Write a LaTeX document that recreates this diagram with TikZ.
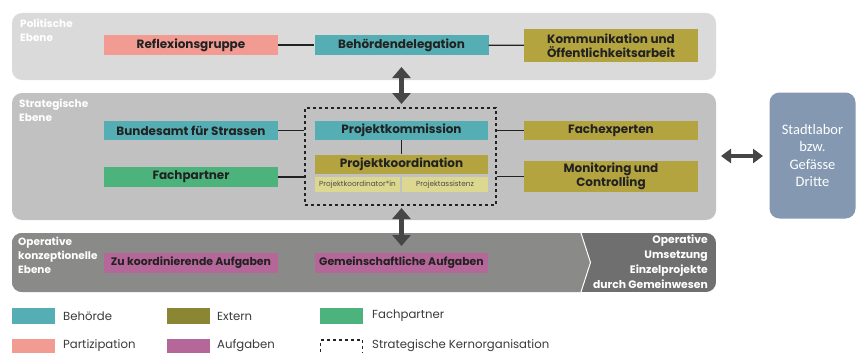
\documentclass[tikz,border=0pt]{standalone}
\usepackage{fontspec}
\setmainfont{Poppins}
\newfontfamily\carl{Carlito}
\usetikzlibrary{arrows.meta}
\definecolor{cteal}{HTML}{54AEB4}
\definecolor{csalmon}{HTML}{F29B92}
\definecolor{colive}{HTML}{B4A440}
\definecolor{cextern}{HTML}{8B8634}
\definecolor{cgreen}{HTML}{4DB37C}
\definecolor{cpurple}{HTML}{B5679A}
\definecolor{clight}{HTML}{DCD88F}
\definecolor{cstadt}{HTML}{8498B1}
\definecolor{cpol}{HTML}{DADADA}
\definecolor{cstrat}{HTML}{C1C1C1}
\definecolor{coper}{HTML}{8A8A89}
\definecolor{coperdark}{HTML}{6F6F6F}
\definecolor{carrow}{HTML}{464646}
\definecolor{ctxt}{HTML}{222222}
\definecolor{clegend}{HTML}{3A3A3A}
\begin{document}
\begin{tikzpicture}[x=1pt,y=-1pt,
  box/.style={fill=#1, minimum width=174pt, minimum height=20pt, inner sep=0pt,
    text=ctxt, font=\bfseries\fontsize{12}{13.5}\selectfont, align=center},
  taskbox/.style={box=cpurple, font=\bfseries\fontsize{10.9}{13}\selectfont},
  subbox/.style={fill=clight, minimum width=85pt, minimum height=15pt, inner sep=0pt,
    text=black!70, font=\fontsize{7.3}{8.5}\selectfont},
  panellabel/.style={anchor=north west, inner sep=0pt, text=white, align=left,
    font=\bfseries\fontsize{10.5}{14}\selectfont},
  link/.style={draw=ctxt, line width=1.2pt},
  bigarrow/.style={draw=carrow, line width=4.5pt, {Triangle[width=18pt,length=11pt]}-{Triangle[width=18pt,length=11pt]}},
  harrow/.style={draw=carrow, line width=4pt, {Triangle[width=14pt,length=10pt]}-{Triangle[width=14pt,length=10pt]}},
  swatch/.style={fill=#1, minimum width=43pt, minimum height=16pt, inner sep=0pt},
  legtext/.style={anchor=west, inner sep=0pt, text=clegend, font=\fontsize{11.7}{13}\selectfont}
]
\useasboundingbox (0,0) rectangle (856,353);

% panels
\fill[cpol, rounded corners=10pt] (12,13) rectangle (716,80);
\fill[cstrat, rounded corners=10pt] (12,93) rectangle (716,220);
\begin{scope}
  \clip[rounded corners=10pt] (12,233) rectangle (716,292);
  \fill[coperdark] (12,233) rectangle (716,292);
  \fill[coper] (0,233) -- (581,233) -- (590.5,262.5) -- (581,292) -- (0,292) -- cycle;
  \draw[white, line width=1pt] (581,233) -- (590.5,262.5) -- (581,292);
\end{scope}
\node[fill=cstadt, rounded corners=10pt, minimum width=86pt, minimum height=126pt, inner sep=0pt,
  text=white, align=center, font=\carl\fontsize{14.5}{17.5}\selectfont] (stadt) at (812.5,155.5)
  {Stadtlabor\\bzw.\\Gefässe\\Dritte};

% panel labels
\node[panellabel] (lpol) at (20,19) {Politische\\Ebene};
\node[panellabel] (lstrat) at (19,99) {Strategische\\Ebene};
\node[panellabel] (loper) at (18,237) {Operative\\konzeptionelle\\Ebene};
\node[anchor=north east, inner sep=0pt, text=white, align=right,
  font=\bfseries\fontsize{10.8}{15}\selectfont] (lumsetz) at (708,235)
  {Operative\\Umsetzung\\Einzelprojekte\\durch Gemeinwesen};

% political level
\node[box=csalmon] (refl) at (191,45) {Reflexionsgruppe};
\node[box=cteal] (behd) at (401.5,45) {Behördendelegation};
\node[box=colive, minimum height=33pt] (komm) at (611,45.5) {Kommunikation und\\Öffentlichkeitsarbeit};
\draw[link] (refl) -- (behd);
\draw[link] (behd) -- (komm);

% strategic level
\node[draw=ctxt, dashed, line width=1.2pt, minimum width=191pt, minimum height=97pt, inner sep=0pt] (kern) at (400.5,156.5) {};
\node[box=cteal, minimum height=19pt] (bund) at (191,130.5) {Bundesamt für Strassen};
\node[box=cteal, minimum height=19pt, minimum width=173pt] (pkom) at (401.5,130.5) {Projektkommission};
\node[box=colive, minimum height=19pt] (fexp) at (611,130.5) {Fachexperten};
\node[box=cgreen] (fpart) at (191,177) {Fachpartner};
\node[box=colive, minimum height=19pt, minimum width=173pt] (pkoord) at (401.5,164) {Projektkoordination};
\node[subbox] (pkin) at (357.5,184.5) {Projektkoordinator*in};
\node[subbox, minimum width=86pt] (pass) at (445,184.5) {Projektassistenz};
\node[box=colive, minimum height=31pt] (moni) at (611,176.5) {Monitoring und\\Controlling};
\draw[link] (bund.east) -- (bund.east -| kern.west);
\draw[link] (fpart.east) -- (fpart.east -| kern.west);
\draw[link] (fexp.west -| kern.east) -- (fexp.west);
\draw[link] (moni.west -| kern.east) -- (moni.west);
\draw[link] (pkom) -- (pkoord);

% operative level
\node[taskbox] (koord) at (191,263) {Zu koordinierende Aufgaben};
\node[taskbox, minimum width=173pt] (gemein) at (401.5,263) {Gemeinschaftliche Aufgaben};

% arrows
\coordinate (a1) at (401.5,67);
\coordinate (a2) at (401.5,104);
\coordinate (b1) at (401.5,208);
\coordinate (b2) at (401.5,246);
\coordinate (c1) at (721,156);
\coordinate (c2) at (763,156);
\draw[bigarrow] (a1) -- (a2);
\draw[bigarrow] (b1) -- (b2);
\draw[harrow] (c1) -- (c2);

% legend
\node[swatch=cteal] (s1) at (33.5,316) {};
\node[legtext] (t1) at (63,316) {Behörde};
\node[swatch=cextern] (s2) at (188,316) {};
\node[legtext] (t2) at (217,316) {Extern};
\node[swatch=cgreen] (s3) at (341.5,316) {};
\node[legtext] (t3) at (372,316) {Fachpartner};
\node[swatch=csalmon] (s4) at (33.5,347) {};
\node[legtext] (t4) at (63,346) {Partizipation};
\node[swatch=cpurple] (s5) at (188,347) {};
\node[legtext] (t5) at (217,346) {Aufgaben};
\node[draw=ctxt, dashed, line width=1.2pt, minimum width=42pt, minimum height=15pt, inner sep=0pt] (s6) at (341.5,347.5) {};
\node[legtext] (t6) at (372,346) {Strategische Kernorganisation};
\end{tikzpicture}
\end{document}
